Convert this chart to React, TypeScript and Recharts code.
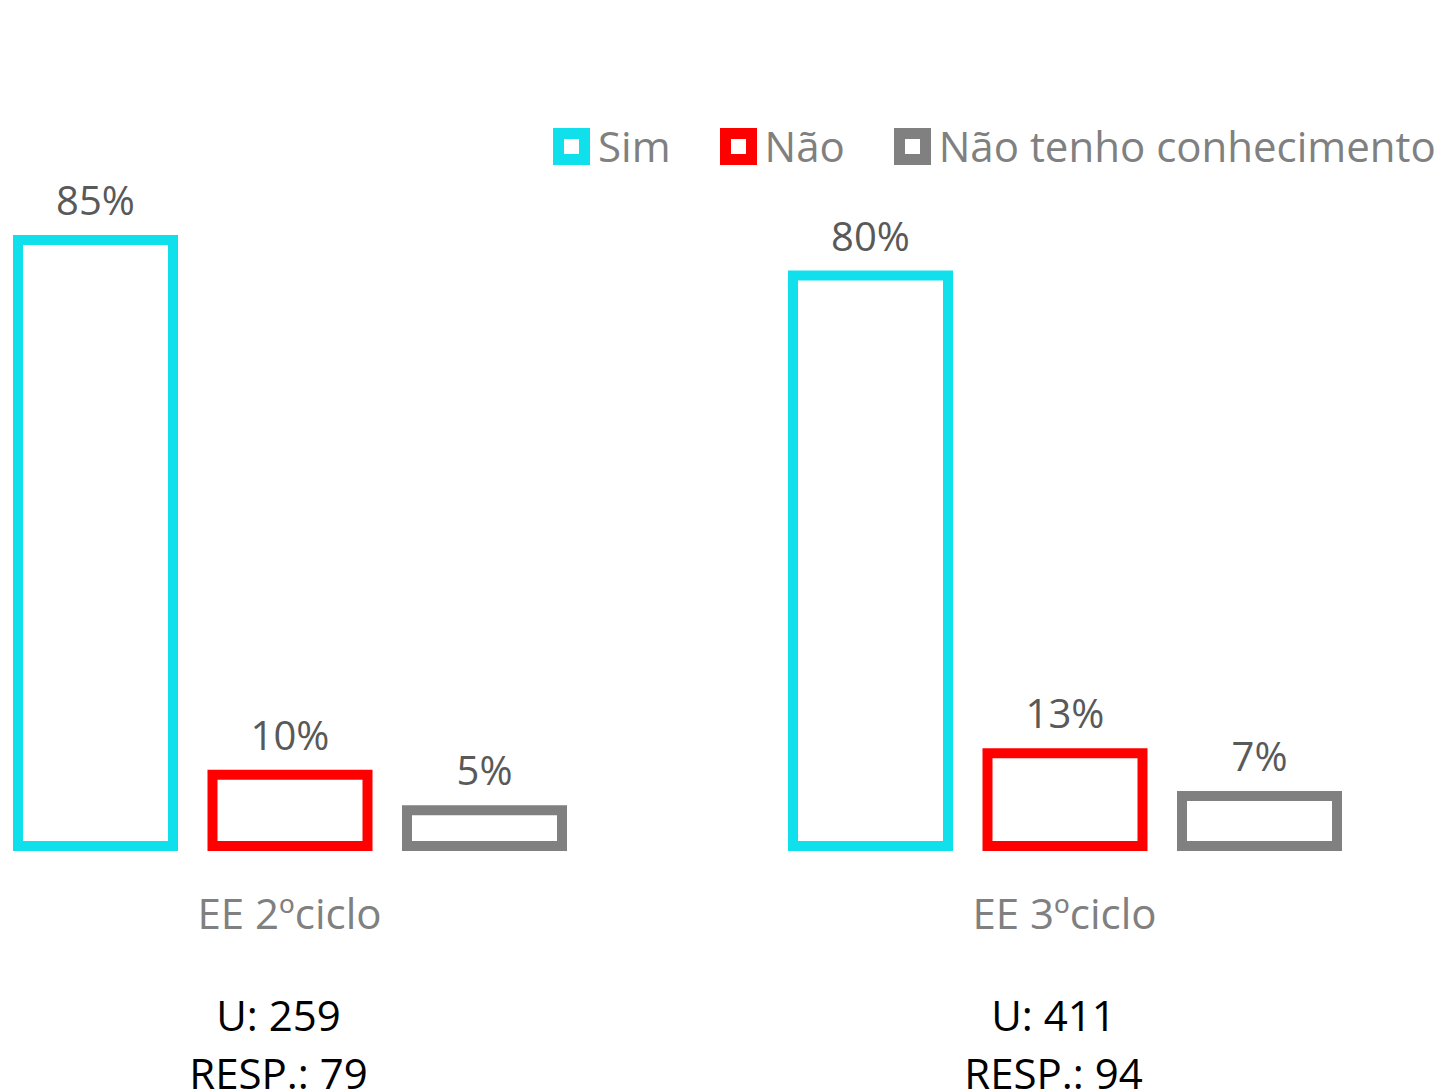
import { BarChart, Bar, XAxis, YAxis, LabelList, Legend } from "recharts";

const categories = ["EE 2ºciclo", "EE 3ºciclo"];
const seriesNames = ["Sim", "Não", "Não tenho conhecimento"];
const sim = [85, 80];
const nao = [10, 13];
const naoSei = [5, 7];
const universe = [259, 411];
const responses = [79, 94];

const colors = ["#10E0EC", "#FF0000", "#808080"];
const keys = ["sim", "nao", "naoSei"];

const data = categories.map((name, i) => ({
  name,
  sim: sim[i],
  nao: nao[i],
  naoSei: naoSei[i],
}));

const FONT = "'Open Sans', sans-serif";

function CategoryTick({ x, y, payload, index }: any) {
  return (
    <g fontFamily={FONT}>
      <text x={x} y={y + 83} textAnchor="middle" fill="#808080" fontSize={42}>
        {payload.value}
      </text>
      <text x={x - 11} y={y + 185} textAnchor="middle" fill="#000" fontSize={42}>
        {`U: ${universe[index]}`}
      </text>
      <text x={x - 11} y={y + 243} textAnchor="middle" fill="#000" fontSize={42}>
        {`RESP.: ${responses[index]}`}
      </text>
    </g>
  );
}

function LegendContent() {
  return (
    <div style={{ display: "flex", alignItems: "center", fontFamily: FONT, whiteSpace: "nowrap" }}>
      {seriesNames.map((n, i) => (
        <div key={n} style={{ display: "flex", alignItems: "center", marginRight: 49 }}>
          <span
            style={{
              display: "inline-block",
              width: 37,
              height: 37,
              boxSizing: "border-box",
              border: `11px solid ${colors[i]}`,
              background: "#fff",
              marginRight: 8,
            }}
          />
          <span style={{ color: "#808080", fontSize: 42, lineHeight: "40px" }}>{n}</span>
        </div>
      ))}
    </div>
  );
}

export default function App() {
  return (
    <div
      style={{
        position: "absolute",
        left: 0,
        top: 0,
        width: 1437,
        height: 1091,
        overflow: "hidden",
        background: "#fff",
      }}
    >
      <div style={{ position: "absolute", left: -98, top: 0 }}>
        <BarChart
          width={1550}
          height={1091}
          data={data}
          barSize={155}
          barGap={39.5}
          margin={{ top: 133, right: 0, left: 0, bottom: 0 }}
        >
          <XAxis
            dataKey="name"
            axisLine={false}
            tickLine={false}
            tickSize={0}
            tickMargin={0}
            height={245}
            tick={<CategoryTick />}
            interval={0}
          />
          <YAxis hide domain={[0, 100]} />
          <Legend
            verticalAlign="middle"
            align="center"
            layout="horizontal"
            content={<LegendContent />}
            wrapperStyle={{ top: 126, left: 553 + 98, width: 950, height: 40 }}
          />
          {keys.map((k, i) => (
            <Bar
              key={k}
              dataKey={k}
              name={seriesNames[i]}
              fill="#fff"
              stroke={colors[i]}
              strokeWidth={10}
              isAnimationActive={false}
            >
              <LabelList
                dataKey={k}
                position="top"
                offset={25}
                fill="#595959"
                fontSize={40}
                fontFamily={FONT}
                formatter={(v: any) => `${v}%`}
              />
            </Bar>
          ))}
        </BarChart>
      </div>
    </div>
  );
}
